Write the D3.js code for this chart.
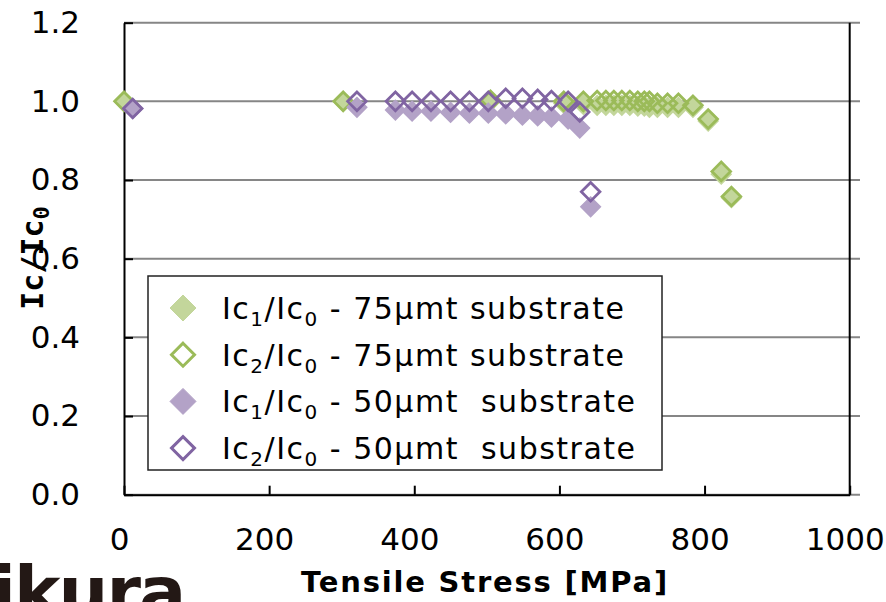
<!DOCTYPE html>
<html>
<head>
<meta charset="utf-8">
<script src="https://cdn.jsdelivr.net/npm/d3@7"></script>
<style>
body{margin:0;background:#fff;}
svg{display:block;}
</style>
</head>
<body>
<svg id="chart" width="886" height="602"></svg>
<script>
// 75 um substrate (green)
var stress75=[0,302,505,606,633,652,664,675,686,697,708,717,724,735,749,764,784,805,823,837];
var ic1_75=[1.0,1.0,1.0,0.995,0.992,0.99,0.99,0.99,0.99,0.99,0.988,0.988,0.985,0.985,0.985,0.985,0.985,0.95,0.815,0.755];
var ic2_75=[1.0,1.0,1.003,1.0,1.0,1.002,1.002,1.002,1.002,1.002,1.0,1.0,1.0,0.995,0.995,0.995,0.99,0.955,0.822,0.758];
// 50 um substrate (purple)
var stress50=[12,321,374,397,423,450,476,502,526,549,570,589,612,628,643];
var ic1_50=[0.982,0.985,0.978,0.975,0.975,0.972,0.97,0.97,0.968,0.965,0.963,0.96,0.955,0.932,0.732];
var ic2_50=[0.982,1.0,1.0,1.0,1.0,1.0,1.0,1.0,1.008,1.008,1.005,1.002,1.0,0.973,0.77];

var xTicks=[0,200,400,600,800,1000];
var yTicks=[0,0.2,0.4,0.6,0.8,1.0,1.2];

var series=[
	{name:'75μmt substrate',sub:'1',x:stress75,y:ic1_75,fill:'#c3d69b',stroke:'#c3d69b',open:false},
	{name:'75μmt substrate',sub:'2',x:stress75,y:ic2_75,fill:'none',stroke:'#9bbb59',open:true},
	{name:'50μmt  substrate',sub:'1',x:stress50,y:ic1_50,fill:'#b3a2c7',stroke:'#b3a2c7',open:false},
	{name:'50μmt  substrate',sub:'2',x:stress50,y:ic2_50,fill:'none',stroke:'#8064a2',open:true}
];

var svg=d3.select('#chart');
var x=d3.scaleLinear().domain([0,1000]).range([124,849.7]);
var y=d3.scaleLinear().domain([0,1.2]).range([494.7,22.7]);

function diamond(r){return 'M0,'+(-r)+'L'+r+',0L0,'+r+'L'+(-r)+',0Z';}

// gridlines
svg.append('g').selectAll('line').data(yTicks).enter().append('line')
	.attr('x1',x(0)).attr('x2',860)
	.attr('y1',d=>y(d)).attr('y2',d=>y(d))
	.attr('stroke','#868686').attr('stroke-width',2);

// axes
var xAxis=d3.axisBottom(x).tickValues(xTicks).tickFormat(d3.format('d'))
	.tickSizeInner(-9).tickSizeOuter(0).tickPadding(33);
var gx=svg.append('g').attr('transform','translate(0,'+y(0)+')').call(xAxis);
gx.select('.domain').attr('stroke','#000').attr('stroke-width',2);
gx.selectAll('.tick line').attr('stroke','#000').attr('stroke-width',2);
gx.selectAll('.tick text').attr('x',-5).style('font-family','"DejaVu Sans"').style('font-size','31px').attr('fill','#000');

var yAxis=d3.axisLeft(y).tickValues(yTicks).tickFormat(d3.format('.1f'))
	.tickSizeInner(-9).tickSizeOuter(0).tickPadding(44);
var gy=svg.append('g').attr('transform','translate('+x(0)+',0)').call(yAxis);
gy.select('.domain').attr('stroke','#000').attr('stroke-width',2);
gy.selectAll('.tick line').attr('stroke','#000').attr('stroke-width',2);
gy.selectAll('.tick text').style('font-family','"DejaVu Sans"').style('font-size','31px').attr('fill','#000');

// right border
svg.append('line').attr('x1',x(1000)).attr('x2',x(1000)).attr('y1',y(1.2)).attr('y2',y(0))
	.attr('stroke','#000').attr('stroke-width',2);

// points
series.forEach(function(s){
	var pts=s.x.map((v,i)=>[v,s.y[i]]);
	svg.append('g').selectAll('path').data(pts).enter().append('path')
		.attr('d',diamond(s.open?9.3:9.8))
		.attr('transform',d=>'translate('+x(d[0])+','+y(d[1])+')')
		.attr('fill',s.fill).attr('stroke',s.stroke)
		.attr('stroke-width',s.open?2.8:1.5);
});

// legend
var lg=svg.append('g');
lg.append('rect').attr('x',148).attr('y',276).attr('width',514).attr('height',194)
	.attr('fill','#fff').attr('stroke','#222').attr('stroke-width',1.5);
series.forEach(function(s,i){
	var cy=308+i*46.7;
	lg.append('path').attr('d',diamond(s.open?11.5:13))
		.attr('transform','translate(183,'+cy+')')
		.attr('fill',s.open?'#fff':s.fill).attr('stroke',s.stroke).attr('stroke-width',s.open?3:1);
	var t=lg.append('text').attr('x',222).attr('y',cy+11)
		.style('font-family','"DejaVu Sans"').style('font-size','30px').style('letter-spacing','1.5px')
		.style('white-space','pre').attr('fill','#000');
	t.append('tspan').text('Ic');
	t.append('tspan').attr('dy',7).style('font-size','20px').text(s.sub);
	t.append('tspan').attr('dy',-7).text('/Ic');
	t.append('tspan').attr('dy',7).style('font-size','20px').text('0');
	t.append('tspan').attr('dy',-7).text(' - '+s.name);
});

// axis titles
svg.append('text').attr('x',485).attr('y',592).attr('text-anchor','middle')
	.style('font-family','"DejaVu Sans"').style('font-weight','bold').style('font-size','29px')
	.style('letter-spacing','1.8px')
	.text('Tensile Stress [MPa]');

var yt=svg.append('text').attr('transform','translate(43,258) rotate(-90)').attr('text-anchor','middle')
	.style('font-family','"DejaVu Sans Mono"').style('font-weight','bold').style('font-size','30px');
yt.append('tspan').text('Ic/Ic');
yt.append('tspan').attr('dy',6).style('font-size','22px').text('0');

// logo fragment
svg.append('text').attr('x',-8).attr('y',616)
	.style('font-family','"DejaVu Sans"').style('font-weight','bold').style('font-size','70px')
	.style('letter-spacing','-2px').attr('fill','#231815').text('ikura');
</script>
</body>
</html>
